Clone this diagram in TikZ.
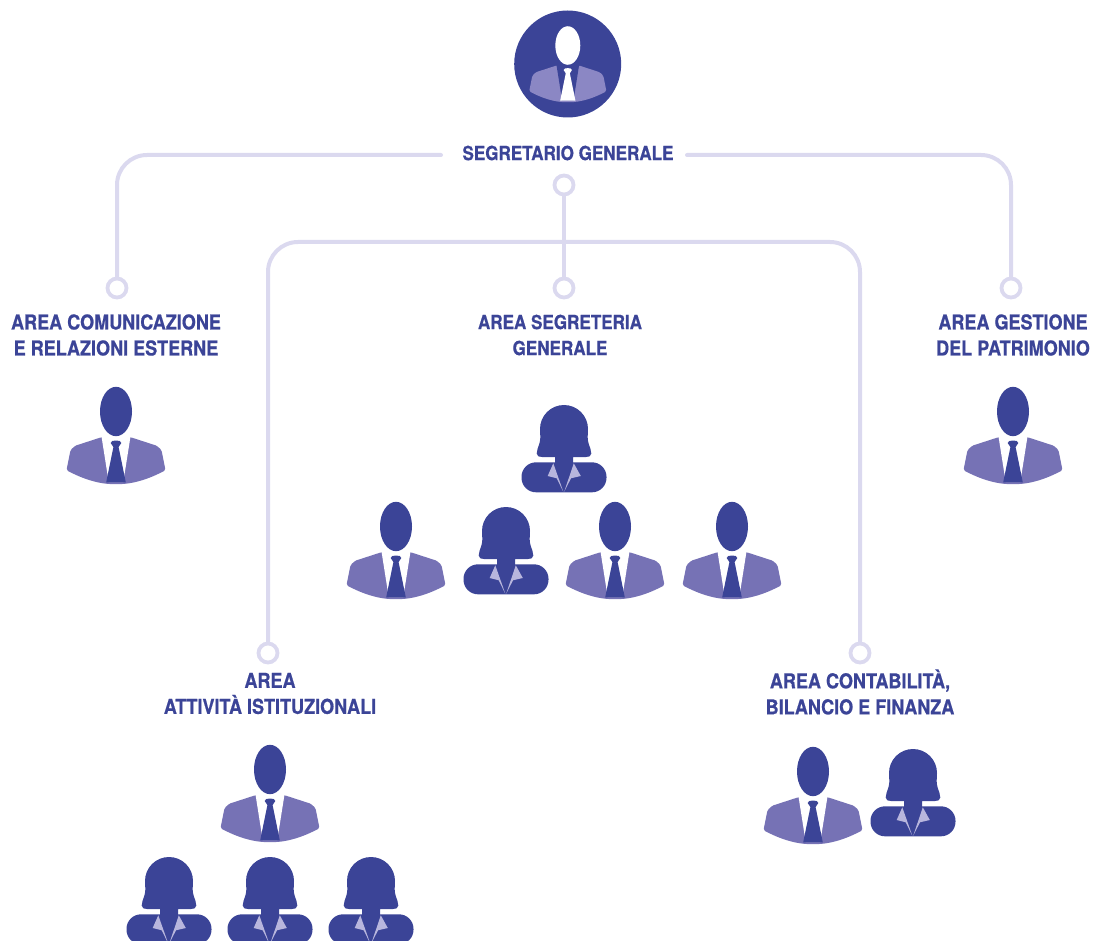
\documentclass[tikz,border=0pt]{standalone}
\usepackage{fontspec}
\setmainfont[FakeStretch=0.88,FakeBold=0.6]{TeX Gyre Heros}
\definecolor{dark}{HTML}{3B4497}
\definecolor{suit}{HTML}{7672B5}
\definecolor{suitlight}{HTML}{8B87C4}
\definecolor{collar}{HTML}{B8B6DD}
\definecolor{linec}{HTML}{DBD9EF}
\tikzset{
  conn/.style={draw=linec,line width=4pt,line cap=round,rounded corners=30pt},
  ring/.style={circle,draw=linec,line width=3.8pt,fill=white,minimum size=19pt,inner sep=0pt},
  lab/.style={text=dark,font=\fontsize{20.5}{26}\selectfont\bfseries,align=center,inner sep=0pt},
  labsmall/.style={lab,font=\fontsize{19.4}{26}\selectfont\bfseries},
  pics/man/.style n args={4}{code={
    \fill[#2,rounded corners=1.5pt] (-14.5,25.7) -- (-41,34.3) -- (-45.5,38.7) -- (-49.5,58.7)
      .. controls (-33,67.5) and (-17,72.7) .. (0,72.7)
      .. controls (17,72.7) and (33,67.5) .. (49.5,58.7)
      -- (45.5,38.7) -- (41,34.3) -- (14.5,25.7) -- cycle;
    \fill[#4] (-14.5,25) -- (14.5,25) -- (7.3,70.5) -- (-7.3,70.5) -- cycle;
    \fill[#3] (-5.3,31.5) .. controls (-5.3,29.6) and (-3,29) .. (0,29) .. controls (3,29) and (5.3,29.6) .. (5.3,31.5)
      -- (2.6,35.6) -- (9.8,70.8) -- (-9.8,70.8) -- (-2.6,35.6) -- cycle;
    \fill[#1] (0,0) ellipse [x radius=16, y radius=24.7];
  }},
  pics/woman/.style={code={
    \fill[dark] (-24,24) .. controls (-24,10.75) and (-13.25,0) .. (0,0) .. controls (13.25,0) and (24,10.75) .. (24,24)
      .. controls (24,30) and (23,33) .. (24.5,38) .. controls (25.5,42) and (27.5,45) .. (27.3,48.5)
      .. controls (27,51.5) and (25,52) .. (22,52) -- (9,52) -- (9,60) -- (-9,60) -- (-9,52) -- (-22,52)
      .. controls (-25,52) and (-27,51.5) .. (-27.3,48.5) .. controls (-27.5,45) and (-25.5,42) .. (-24.5,38)
      .. controls (-23,33) and (-24,30) .. (-24,24) -- cycle;
    \fill[dark,rounded corners=14.5pt] (-42.5,57.3) rectangle (42.5,87.3);
    \fill[collar] (-10.7,58.3) -- (-16.3,71) -- (-7.3,73.3) -- (-0.7,86.7) -- cycle;
    \fill[collar] (9.8,58.3) -- (16.8,71) -- (7,73.3) -- (0.2,86.7) -- cycle;
  }}
}
\begin{document}
\begin{tikzpicture}[x=1pt,y=-1pt]
\useasboundingbox (0,0) rectangle (1101,941);
\clip (0,0) rectangle (1101,941);
% labels
\node[labsmall] (seg) at (568,153) {SEGRETARIO GENERALE};
\node[lab] (comm) at (116,335) {AREA COMUNICAZIONE\\E RELAZIONI ESTERNE};
\node[labsmall] (segr) at (560,335) {AREA SEGRETERIA\\GENERALE};
\node[lab] (gest) at (1013,335) {AREA GESTIONE\\DEL PATRIMONIO};
\node[lab] (atti) at (270,693.5) {AREA\\ATTIVITÀ ISTITUZIONALI};
\node[lab] (cont) at (860,692) {AREA CONTABILITÀ,\\BILANCIO E FINANZA};
% rings
\node[ring] (r0) at (564,185) {};
\node[ring] (r1) at (117,288) {};
\node[ring] (r2) at (564,288) {};
\node[ring] (r3) at (1011,288) {};
\node[ring] (r4) at (268,653) {};
\node[ring] (r5) at (860,653) {};
\coordinate (sl) at (441,155);
\coordinate (sr) at (687,155);
\coordinate (mid) at (564,242);
% connectors
\draw[conn] (sl) -| (r1.north);
\draw[conn] (sr) -| (r3.north);
\draw[conn,line cap=butt] (r0.south) -- (r2.north);
\draw[conn] (mid) -| (r4.north);
\draw[conn] (mid) -| (r5.north);
% top icon
\fill[dark] (567.7,64) circle [radius=53.5];
\pic[scale=0.78] at (567.8,45.5) {man={white}{suitlight}{white}{dark}};
% men
\foreach \x/\y in {116/411.5,1013/411.5,396/526.5,615/526.5,732/526.5,270/769.5,813/771.5}
  \pic at (\x,\y) {man={dark}{suit}{dark}{white}};
% women
\foreach \x/\y in {564/405,506/507,169/857,270/857,371/857,913/749}
  \pic at (\x,\y) {woman};
\end{tikzpicture}
\end{document}
